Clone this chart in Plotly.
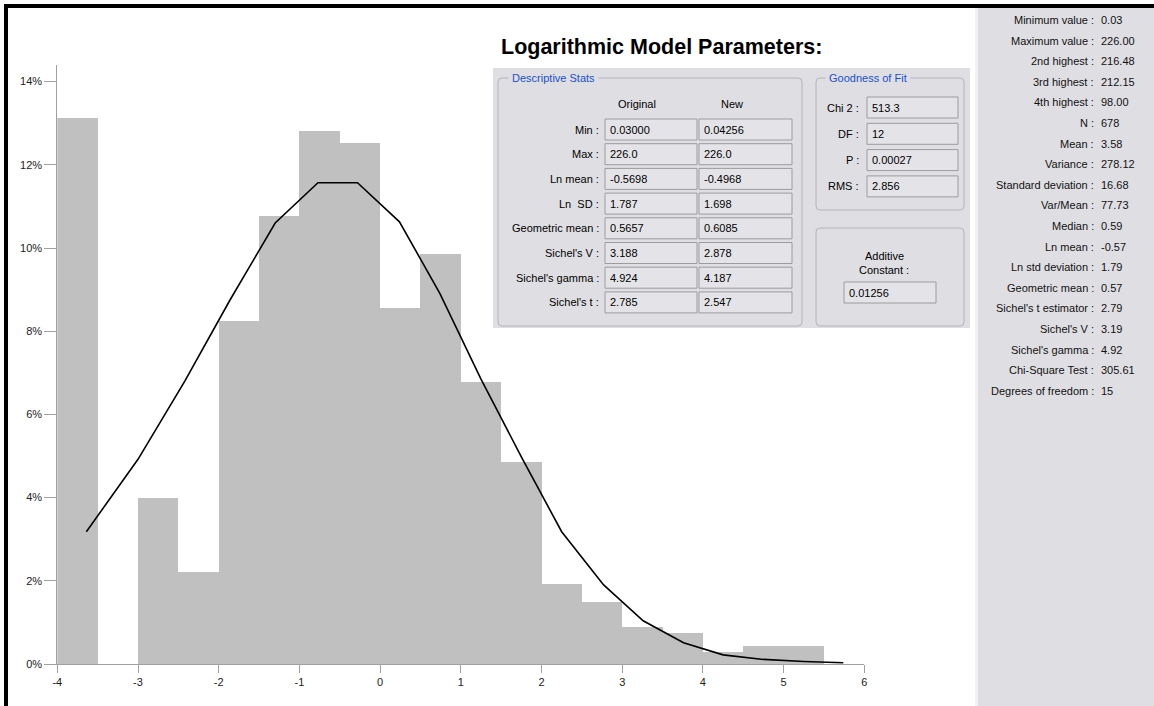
import plotly.graph_objects as go

# ---------------- data ----------------
bin_centers = [-3.75, -3.25, -2.75, -2.25, -1.75, -1.25, -0.75, -0.25, 0.25, 0.75,
               1.25, 1.75, 2.25, 2.75, 3.25, 3.75, 4.25, 4.75, 5.25, 5.75]
freq_pct = [13.12, 0.0, 3.98, 2.22, 8.24, 10.77, 12.81, 12.52, 8.56, 9.86,
            6.79, 4.86, 1.92, 1.48, 0.88, 0.74, 0.30, 0.44, 0.44, 0.0]

fit_x = [-3.64, -3.0, -2.42, -1.86, -1.30, -0.77, -0.28, 0.24, 0.74, 1.25,
         1.75, 2.25, 2.77, 3.26, 3.76, 4.25, 4.75, 5.25, 5.74]
fit_y = [3.18, 4.92, 6.80, 8.75, 10.60, 11.57, 11.57, 10.63, 8.91, 6.85,
         4.98, 3.18, 1.90, 1.04, 0.51, 0.22, 0.11, 0.06, 0.03]

x_ticks = [-4, -3, -2, -1, 0, 1, 2, 3, 4, 5, 6]
y_ticks = [0, 2, 4, 6, 8, 10, 12, 14]

desc_labels = ["Min :", "Max :", "Ln mean :", "Ln  SD :", "Geometric mean :",
               "Sichel's V :", "Sichel's gamma :", "Sichel's t :"]
desc_original = ["0.03000", "226.0", "-0.5698", "1.787", "0.5657", "3.188", "4.924", "2.785"]
desc_new = ["0.04256", "226.0", "-0.4968", "1.698", "0.6085", "2.878", "4.187", "2.547"]

gof_labels = ["Chi 2 :", "DF :", "P :", "RMS :"]
gof_values = ["513.3", "12", "0.00027", "2.856"]
additive_constant = "0.01256"

summary_labels = ["Minimum value :", "Maximum value :", "2nd highest :", "3rd highest :",
                  "4th highest :", "N :", "Mean :", "Variance :", "Standard deviation :",
                  "Var/Mean :", "Median :", "Ln mean :", "Ln std deviation :",
                  "Geometric mean :", "Sichel's t estimator :", "Sichel's V :",
                  "Sichel's gamma :", "Chi-Square Test :", "Degrees of freedom :"]
summary_values = ["0.03", "226.00", "216.48", "212.15", "98.00", "678", "3.58", "278.12",
                  "16.68", "77.73", "0.59", "-0.57", "1.79", "0.57", "2.79", "3.19",
                  "4.92", "305.61", "15"]

# ---------------- layout helpers ----------------
W, H = 1154, 706
FONT = "Liberation Sans, Arial, sans-serif"
PANEL_BG = "#dfdfe3"


def px(x):
    return x / W


def py(y):
    return 1 - y / H


shapes = []
annotations = []


def rect(x0, y0, x1, y1, fill=None, line=None, lw=1):
    shapes.append(dict(type="rect", xref="paper", yref="paper",
                       x0=px(x0), x1=px(x1), y0=py(y1), y1=py(y0),
                       fillcolor=fill if fill else "rgba(0,0,0,0)",
                       line=dict(color=line if line else "rgba(0,0,0,0)", width=lw if line else 0)))


def rrect(x0, y0, x1, y1, r=4, line="#b4b4b8"):
    pts = (f"M {px(x0 + r)},{py(y0)} L {px(x1 - r)},{py(y0)} "
           f"Q {px(x1)},{py(y0)} {px(x1)},{py(y0 + r)} L {px(x1)},{py(y1 - r)} "
           f"Q {px(x1)},{py(y1)} {px(x1 - r)},{py(y1)} L {px(x0 + r)},{py(y1)} "
           f"Q {px(x0)},{py(y1)} {px(x0)},{py(y1 - r)} L {px(x0)},{py(y0 + r)} "
           f"Q {px(x0)},{py(y0)} {px(x0 + r)},{py(y0)} Z")
    shapes.append(dict(type="path", xref="paper", yref="paper", path=pts,
                       line=dict(color=line, width=1)))


def text(x, y, s, anchor="left", size=11, color="#000000", bold=False, family=FONT, bg=None):
    a = dict(xref="paper", yref="paper", x=px(x), y=py(y), text=f"<b>{s}</b>" if bold else s,
             showarrow=False, xanchor=anchor, yanchor="middle",
             font=dict(family=family, size=size, color=color), borderpad=0)
    if bg:
        a["bgcolor"] = bg
    annotations.append(a)


# ---------------- figure ----------------
fig = go.Figure()
fig.add_trace(go.Bar(x=bin_centers, y=freq_pct, width=0.5,
                     marker=dict(color="#c0c0c0", line=dict(width=0)),
                     hoverinfo="skip", showlegend=False))
fig.add_trace(go.Scatter(x=fit_x, y=fit_y, mode="lines",
                         line=dict(color="#000000", width=1.6),
                         hoverinfo="skip", showlegend=False))

# outer black frame (top & left)
rect(4, 4, W + 2, 8, fill="#000000")
rect(4, 4, 8, H + 2, fill="#000000")

# right summary panel
rect(977, 8, W + 2, H + 2, fill=PANEL_BG)
rect(975, 8, 978, H + 2, fill="#f2f2f4")
for i, (lab, val) in enumerate(zip(summary_labels, summary_values)):
    y = 20 + i * 20.6
    text(1095, y, lab, anchor="right", color="#111111")
    text(1100, y, val, anchor="left", color="#111111")

# model parameters panel
text(500, 47, "Logarithmic Model Parameters:", anchor="left", size=21.5, bold=True)
rect(493, 68, 970, 328, fill=PANEL_BG)

# Descriptive stats group
rrect(498, 78, 802, 326)
text(508, 78, "&nbsp;Descriptive Stats&nbsp;", anchor="left", color="#1a50d0", bg=PANEL_BG)
text(637, 104, "Original", anchor="center")
text(732, 104, "New", anchor="center")
for i, (lab, o, n) in enumerate(zip(desc_labels, desc_original, desc_new)):
    y0 = 119 + i * 24.7
    yc = y0 + 10.5
    rect(605, y0, 697, y0 + 21, fill="#e4e4e8", line="#9c9c9c")
    rect(699, y0, 792, y0 + 21, fill="#e4e4e8", line="#9c9c9c")
    text(600, yc, lab, anchor="right")
    text(609, yc, o, anchor="left")
    text(703, yc, n, anchor="left")

# Goodness of fit group
rrect(816, 78, 964, 210)
text(825, 78, "&nbsp;Goodness of Fit&nbsp;", anchor="left", color="#1a50d0", bg=PANEL_BG)
for i, (lab, v) in enumerate(zip(gof_labels, gof_values)):
    y0 = 97 + i * 26.3
    yc = y0 + 10.5
    rect(867, y0, 958, y0 + 21, fill="#e4e4e8", line="#9c9c9c")
    text(860, yc, lab, anchor="right")
    text(871, yc, v, anchor="left")

# Additive constant group
rrect(816, 228, 964, 326)
text(884, 256, "Additive", anchor="center")
text(884, 270, "Constant :", anchor="center")
rect(844, 282, 936, 303, fill="#e4e4e8", line="#9c9c9c")
text(848, 292.5, additive_constant, anchor="left")

axis_grey = "#a0a0a0"
fig.update_layout(
    width=W, height=H,
    margin=dict(l=0, r=0, t=0, b=0, autoexpand=False),
    paper_bgcolor="#ffffff", plot_bgcolor="#ffffff",
    bargap=0, hovermode=False,
    shapes=shapes, annotations=annotations,
    xaxis=dict(domain=[px(57.3), px(864.3)], range=[-4, 6], tickvals=x_ticks,
               ticktext=[str(v) for v in x_ticks], automargin=False,
               showgrid=False, zeroline=False, showline=True, linecolor=axis_grey, linewidth=1,
               ticks="outside", ticklen=8, tickcolor=axis_grey, tickwidth=1,
               tickfont=dict(family=FONT, size=11, color="#222222"), fixedrange=True),
    yaxis=dict(domain=[py(664), py(65)], range=[0, (664 - 65) / 41.6], tickvals=y_ticks,
               ticktext=[f"{v}%" for v in y_ticks], automargin=False,
               showgrid=False, zeroline=False, showline=True, linecolor=axis_grey, linewidth=1,
               ticks="outside", ticklen=12, tickcolor=axis_grey, tickwidth=1,
               tickfont=dict(family=FONT, size=11, color="#222222"), fixedrange=True),
)

fig.write_html(
    "out.html",
    config={"displayModeBar": False, "staticPlot": True},
    post_script="document.body.style.margin='0';document.body.style.overflow='hidden';",
)
